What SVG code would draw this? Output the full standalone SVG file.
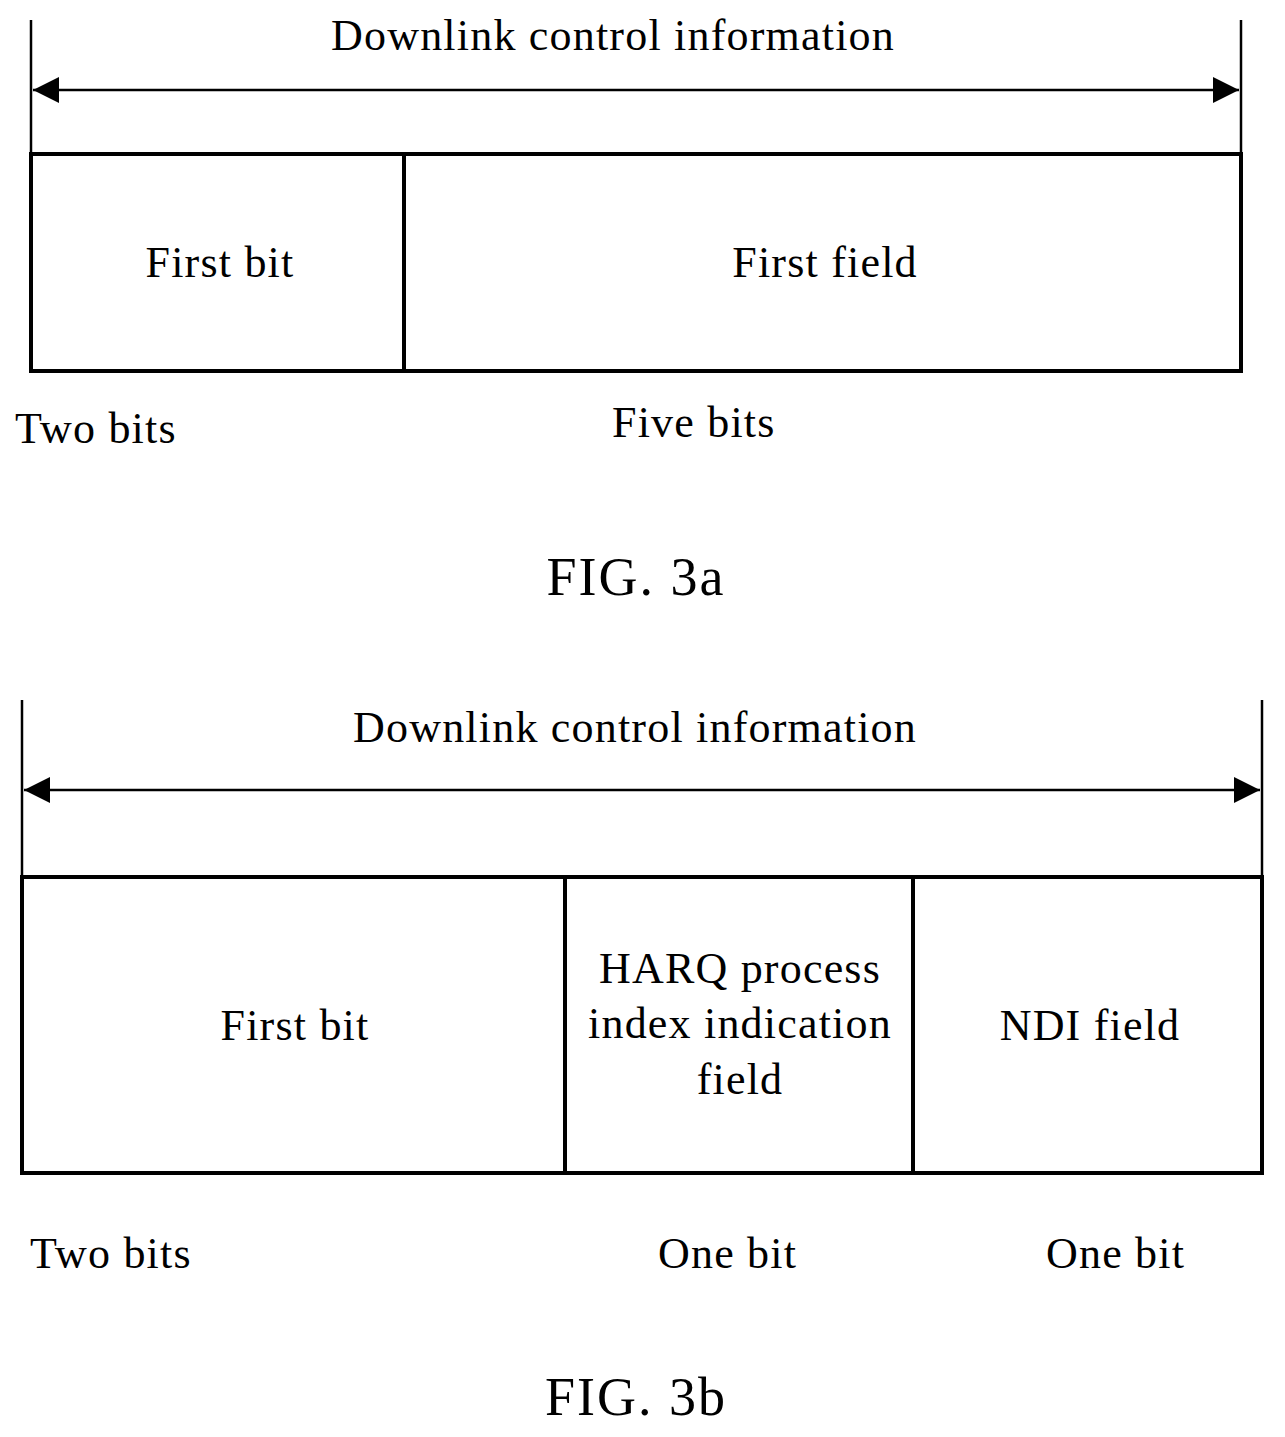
<svg xmlns="http://www.w3.org/2000/svg" width="1285" height="1437" viewBox="0 0 1285 1437">
<style>
text{font-family:"Liberation Serif",serif;font-size:44px;letter-spacing:1.2px;fill:#000}
.m{text-anchor:middle}
.fig{font-size:54px;letter-spacing:2px}
line,rect{stroke:#000;stroke-width:4;fill:none}
.a{stroke-width:2.5}
</style>
<defs>
<marker id="ah" viewBox="0 0 10 10" refX="10" refY="5" markerWidth="40" markerHeight="26" markerUnits="userSpaceOnUse" orient="auto-start-reverse"><path d="M0,0L10,5L0,10z" fill="#000"/></marker>
</defs>
<g id="connectors">
<line x1="31" y1="20" x2="31" y2="155" class="a"/>
<line x1="1241" y1="20" x2="1241" y2="155" class="a"/>
<line x1="33" y1="90" x2="1239" y2="90" class="a" marker-start="url(#ah)" marker-end="url(#ah)"/>
<line x1="22" y1="700" x2="22" y2="877" class="a"/>
<line x1="1262" y1="700" x2="1262" y2="877" class="a"/>
<line x1="24" y1="790" x2="1260" y2="790" class="a" marker-start="url(#ah)" marker-end="url(#ah)"/>
</g>
<g id="fig3a">
<text x="613" y="50" class="m">Downlink control information</text>
<g id="a-firstbit"><rect x="31" y="154" width="373" height="217"/><text x="220" y="277" class="m">First bit</text></g>
<g id="a-firstfield"><rect x="404" y="154" width="837" height="217"/><text x="825" y="277" class="m">First field</text></g>
<text x="15" y="443">Two bits</text>
<text x="612" y="437">Five bits</text>
<text x="636" y="595" class="m fig">FIG. 3a</text>
</g>
<g id="fig3b">
<text x="635" y="742" class="m">Downlink control information</text>
<g id="b-firstbit"><rect x="22" y="877" width="543" height="296"/><text x="295" y="1040" class="m">First bit</text></g>
<g id="b-harq"><rect x="565" y="877" width="348" height="296"/><text x="740" y="983" class="m">HARQ process</text><text x="740" y="1038" class="m">index indication</text><text x="740" y="1094" class="m">field</text></g>
<g id="b-ndi"><rect x="913" y="877" width="349" height="296"/><text x="1090" y="1040" class="m">NDI field</text></g>
<text x="30" y="1268">Two bits</text>
<text x="658" y="1268">One bit</text>
<text x="1046" y="1268">One bit</text>
<text x="636" y="1415" class="m fig">FIG. 3b</text>
</g>
</svg>
